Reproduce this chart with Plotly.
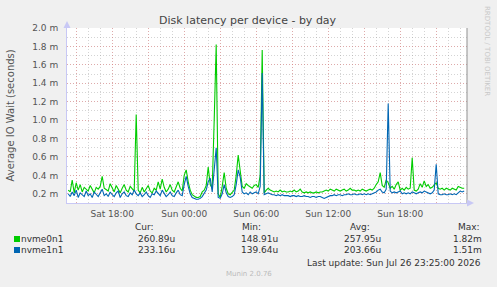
import plotly.graph_objects as go
import pandas as pd

# ---------------- data (values in milliseconds, 10-minute samples) ----------------
START = "2026-07-25 14:20"

nvme0n1 = [
    0.24, 0.22, 0.35, 0.21, 0.32, 0.24, 0.30, 0.22, 0.27, 0.25, 0.23, 0.29, 0.24, 0.21, 0.27, 0.25, 0.28, 0.39, 0.26, 0.24, 0.23, 0.31,
    0.27, 0.22, 0.29, 0.25, 0.21, 0.26, 0.30, 0.24, 0.22, 0.28, 0.25, 0.23,
    1.06,
    0.24, 0.21, 0.27, 0.22, 0.25, 0.29, 0.23, 0.21, 0.26, 0.24, 0.33, 0.25, 0.36, 0.27, 0.22, 0.25, 0.30, 0.24, 0.22, 0.28, 0.33, 0.26, 0.23,
    0.40, 0.46, 0.33, 0.24, 0.19, 0.17, 0.16, 0.16, 0.17, 0.22, 0.24, 0.29, 0.49, 0.30, 0.26, 1.00, 1.82, 0.20, 0.16, 0.28, 0.43, 0.26, 0.20, 0.19, 0.21, 0.24, 0.40, 0.62, 0.45,
    0.28, 0.26, 0.31, 0.29, 0.27, 0.26, 0.29, 0.30, 0.27,
    0.40, 1.76,
    0.21, 0.24, 0.26, 0.24, 0.23, 0.22, 0.23, 0.22, 0.24, 0.22, 0.23, 0.22, 0.22, 0.23, 0.22, 0.24, 0.22, 0.23,
    0.25, 0.22, 0.21, 0.22, 0.21, 0.22, 0.21, 0.21, 0.22, 0.21, 0.22, 0.22, 0.23, 0.24, 0.23, 0.25, 0.24, 0.23, 0.25, 0.24, 0.23, 0.24, 0.25, 0.23, 0.24, 0.26, 0.24, 0.24, 0.23,
    0.24, 0.23, 0.25, 0.24, 0.23, 0.24, 0.25, 0.24, 0.26,
    0.30, 0.33, 0.43, 0.29, 0.27, 0.35,
    0.32, 0.26, 0.28, 0.25, 0.30, 0.33, 0.24, 0.26, 0.24, 0.27, 0.25, 0.26, 0.59, 0.24, 0.23, 0.25, 0.31, 0.27, 0.34, 0.28, 0.30, 0.26, 0.27, 0.30, 0.32, 0.26, 0.25, 0.26, 0.24, 0.26, 0.25, 0.24, 0.26, 0.25, 0.24, 0.28, 0.27, 0.26, 0.26,
]

nvme1n1 = [
    0.20, 0.17, 0.22, 0.18, 0.24, 0.16, 0.21, 0.19, 0.17, 0.23, 0.18, 0.20, 0.16, 0.22, 0.19, 0.17, 0.21, 0.25, 0.18, 0.20, 0.17, 0.22,
    0.19, 0.17, 0.21, 0.23, 0.16, 0.20, 0.22, 0.18, 0.17, 0.21, 0.19, 0.24,
    0.20,
    0.18, 0.21, 0.17, 0.19, 0.22, 0.18, 0.16, 0.20, 0.19, 0.23, 0.21, 0.18, 0.24, 0.20, 0.17, 0.19, 0.22, 0.18, 0.17, 0.21, 0.24, 0.19, 0.18,
    0.30, 0.39, 0.28, 0.20, 0.16, 0.15, 0.14, 0.14, 0.15, 0.17, 0.20, 0.24, 0.33, 0.37, 0.22, 0.45, 0.70, 0.16, 0.15, 0.20, 0.30, 0.21, 0.17, 0.16, 0.17, 0.19, 0.30, 0.46, 0.38,
    0.22, 0.20, 0.21, 0.19, 0.22, 0.20, 0.21, 0.22, 0.20,
    0.28, 1.51,
    0.19, 0.20, 0.21, 0.20, 0.19, 0.19, 0.18, 0.19, 0.18, 0.19, 0.18, 0.18, 0.18, 0.17, 0.18, 0.18, 0.17, 0.18,
    0.17, 0.17, 0.18, 0.17, 0.17, 0.16, 0.17, 0.17, 0.16, 0.17, 0.17, 0.16, 0.15, 0.16, 0.17, 0.18, 0.18, 0.19, 0.18, 0.19, 0.19, 0.18, 0.19, 0.19, 0.20, 0.19, 0.19, 0.20, 0.19,
    0.19, 0.20, 0.19, 0.20, 0.19, 0.20, 0.19, 0.20, 0.21,
    0.22, 0.24, 0.25, 0.22, 0.21, 0.25,
    1.18, 0.23, 0.21, 0.22, 0.21, 0.22, 0.23, 0.20, 0.21, 0.20, 0.21, 0.20, 0.22, 0.21,
    0.20, 0.21, 0.22, 0.21, 0.23, 0.22, 0.21, 0.20, 0.21, 0.24, 0.52, 0.20, 0.19, 0.19, 0.20, 0.19, 0.19, 0.20, 0.19, 0.20, 0.19, 0.21, 0.23, 0.22, 0.23,
]

series_names = ["nvme0n1", "nvme1n1"]
series_colors = ["#00cc00", "#0066b3"]

x_tick_vals = ["2026-07-25 15:00", "2026-07-25 18:00", "2026-07-25 21:00", "2026-07-26 00:00",
               "2026-07-26 03:00", "2026-07-26 06:00", "2026-07-26 09:00", "2026-07-26 12:00",
               "2026-07-26 15:00", "2026-07-26 18:00", "2026-07-26 21:00"]
x_tick_text = ["", "Sat 18:00", "", "Sun 00:00", "", "Sun 06:00", "", "Sun 12:00", "", "Sun 18:00", ""]

y_tick_vals = [0.2, 0.4, 0.6, 0.8, 1.0, 1.2, 1.4, 1.6, 1.8, 2.0]
y_tick_text = ["0.2 m", "0.4 m", "0.6 m", "0.8 m", "1.0 m", "1.2 m", "1.4 m", "1.6 m", "1.8 m", "2.0 m"]

cur_vals = ["260.89u", "233.16u"]
min_vals = ["148.91u", "139.64u"]
avg_vals = ["257.95u", "203.66u"]
max_vals = ["1.82m", "1.51m"]

TITLE = "Disk latency per device - by day"
Y_TITLE = "Average IO Wait (seconds)"
LAST_UPDATE = "Last update: Sun Jul 26 23:25:00 2026"

assert len(nvme0n1) == len(nvme1n1)
times = pd.date_range(START, periods=len(nvme0n1), freq="10min")

# ---------------- layout geometry ----------------
W, H = 497, 287
PL, PR, PT, PB = 67, 467, 28, 203
FONT = "DejaVu Sans"
MAJOR_GRID = "rgba(235,120,120,0.45)"
MINOR_GRID = "rgba(160,160,160,0.45)"


def px(x):
    return (x - PL) / (PR - PL)


def py(y):
    return (PB - y) / (PB - PT)


fig = go.Figure()
for name, vals, col in zip(series_names, [nvme0n1, nvme1n1], series_colors):
    fig.add_trace(go.Scatter(x=times, y=vals, mode="lines", name=name,
                             line=dict(color=col, width=1.1), showlegend=False))

fig.update_layout(
    width=W, height=H,
    margin=dict(l=PL, r=W - PR, t=PT, b=H - PB, pad=0),
    paper_bgcolor="#f0f0f0", plot_bgcolor="#ffffff",
    font=dict(family=FONT, size=9, color="#555555"),
    xaxis=dict(
        range=["2026-07-25 14:14", "2026-07-26 23:34"],
        tickmode="array", tickvals=x_tick_vals, ticktext=x_tick_text,
        showgrid=True, gridcolor=MAJOR_GRID, griddash="1px,2px", gridwidth=1,
        minor=dict(dtick=3600000, tick0="2026-07-25 00:00", showgrid=True,
                   gridcolor=MINOR_GRID, griddash="1px,2px", gridwidth=1),
        showline=True, linecolor="#c8c8f5", linewidth=1,
        ticks="", zeroline=False, tickfont=dict(size=9, color="#555555"),
        ticklabelstandoff=2,
    ),
    yaxis=dict(
        range=[0.1, 2.0],
        tickmode="array", tickvals=y_tick_vals, ticktext=y_tick_text,
        showgrid=True, gridcolor=MAJOR_GRID, griddash="1px,2px", gridwidth=1,
        minor=dict(dtick=0.1, tick0=0.1, showgrid=True,
                   gridcolor=MINOR_GRID, griddash="1px,2px", gridwidth=1),
        showline=True, linecolor="#c8c8f5", linewidth=1,
        ticks="", zeroline=False, tickfont=dict(size=9, color="#555555"),
        ticklabelstandoff=6,
    ),
)

shapes = [
    dict(type="line", xref="paper", yref="paper", x0=1, x1=1, y0=0, y1=1,
         line=dict(color="#909090", width=1)),
    dict(type="path", xref="paper", yref="paper",
         path=f"M {px(467)} {py(199.5)} L {px(474)} {py(203)} L {px(467)} {py(206.5)} Z",
         fillcolor="#c8c8f5", line=dict(width=0)),
    dict(type="path", xref="paper", yref="paper",
         path=f"M {px(63.5)} {py(28)} L {px(67)} {py(21)} L {px(70.5)} {py(28)} Z",
         fillcolor="#c8c8f5", line=dict(width=0)),
]

annotations = [
    dict(text=TITLE, x=px(248), y=py(21), font=dict(size=11, color="#444444")),
    dict(text=Y_TITLE, x=px(10), y=py(115.5), textangle=-90, font=dict(size=10, color="#555555")),
    dict(text="RRDTOOL / TOBI OETIKER", x=px(487), y=py(51), textangle=90,
         font=dict(size=7, color="#c8c8c8")),
    dict(text="Munin 2.0.76", x=px(249), y=py(274), font=dict(size=7, color="#bbbbbb")),
]

LEG = "#333333"
header_y = 227
row_y = [239, 250]
for txt, x in zip(["Cur:", "Min:", "Avg:", "Max:"], [133, 240, 348, 456]):
    annotations.append(dict(text=txt, x=px(x), y=py(header_y), xanchor="left",
                            font=dict(size=9, color=LEG)))
for i in range(2):
    yy = py(row_y[i])
    shapes.append(dict(type="rect", xref="paper", yref="paper",
                       x0=px(14), x1=px(20), y0=py(row_y[i] + 3), y1=py(row_y[i] - 3),
                       fillcolor=series_colors[i], line=dict(width=0)))
    annotations.append(dict(text=series_names[i], x=px(19), y=yy, xanchor="left",
                            font=dict(size=9, color=LEG)))
    annotations.append(dict(text=cur_vals[i], x=px(136), y=yy, xanchor="left", font=dict(size=9, color=LEG)))
    annotations.append(dict(text=min_vals[i], x=px(239), y=yy, xanchor="left", font=dict(size=9, color=LEG)))
    annotations.append(dict(text=avg_vals[i], x=px(342), y=yy, xanchor="left", font=dict(size=9, color=LEG)))
    annotations.append(dict(text=max_vals[i], x=px(484), y=yy, xanchor="right", font=dict(size=9, color=LEG)))
annotations.append(dict(text=LAST_UPDATE, x=px(483), y=py(263), xanchor="right",
                        font=dict(size=9, color=LEG)))

for a in annotations:
    a.setdefault("xref", "paper")
    a.setdefault("yref", "paper")
    a.setdefault("showarrow", False)
    a.setdefault("yanchor", "middle")
    a.setdefault("xanchor", "center")
    a["font"].setdefault("family", FONT)

fig.update_layout(shapes=shapes, annotations=annotations)
fig.write_html("out.html")
